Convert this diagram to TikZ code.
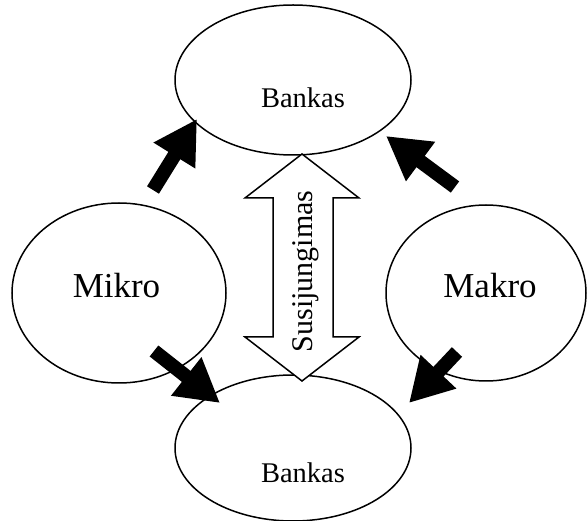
\documentclass[tikz,border=0pt]{standalone}
\usepackage{fontspec}
\setmainfont{Liberation Serif}
\usetikzlibrary{shapes.geometric,arrows.meta}
\tikzset{
  oval/.style={ellipse, draw, line width=1.5pt, inner sep=0pt},
  bigarrow/.style={line width=14pt, -{Triangle[length=43pt,width=46pt]}},
  hollowarrow/.style={draw, line width=1.5pt, line join=miter, fill=white},
  banktext/.style={font=\fontsize{28.5}{30}\selectfont, anchor=base, inner sep=0pt},
  sidetext/.style={font=\fontsize{35}{37}\selectfont, anchor=base, inner sep=0pt},
  linktext/.style={font=\fontsize{30}{32}\selectfont, anchor=base, inner sep=0pt, rotate=90}
}
\begin{document}
\begin{tikzpicture}[x=1pt,y=-1pt]
\useasboundingbox (0,0) rectangle (587,521);

% ovals
\node[oval, minimum width=236pt, minimum height=150pt] (top) at (293,80) {};
\node[oval, minimum width=236pt, minimum height=146pt] (bottom) at (293,448) {};
\node[oval, minimum width=214pt, minimum height=180pt] (mikro) at (119,293) {};
\node[oval, minimum width=200pt, minimum height=176pt] (makro) at (486,293) {};

% labels
\node[banktext] (topl) at (303,108) {Bankas};
\node[banktext] (botl) at (303,483) {Bankas};
\node[sidetext] (mikl) at (116.5,298) {Mikro};
\node[sidetext] (makl) at (490,298) {Makro};

% hollow double arrow between the two banks
\path[hollowarrow] (302,154) -- (359,198) -- (333,198) -- (333,337) -- (359,337)
  -- (302,381) -- (245,337) -- (273,337) -- (273,198) -- (245,198) -- cycle;
\node[linktext] (link) at (312,271.5) {Susijungimas};

% filled arrows
\coordinate (a1s) at (153,190); \coordinate (a1e) at (197,119);
\coordinate (a2s) at (455,187); \coordinate (a2e) at (386,136);
\coordinate (a3s) at (154,351); \coordinate (a3e) at (220,403);
\coordinate (a4s) at (457,352); \coordinate (a4e) at (409,403);
\draw[bigarrow] (a1s) -- (a1e);
\draw[bigarrow] (a2s) -- (a2e);
\draw[bigarrow] (a3s) -- (a3e);
\draw[bigarrow] (a4s) -- (a4e);
\end{tikzpicture}
\end{document}
